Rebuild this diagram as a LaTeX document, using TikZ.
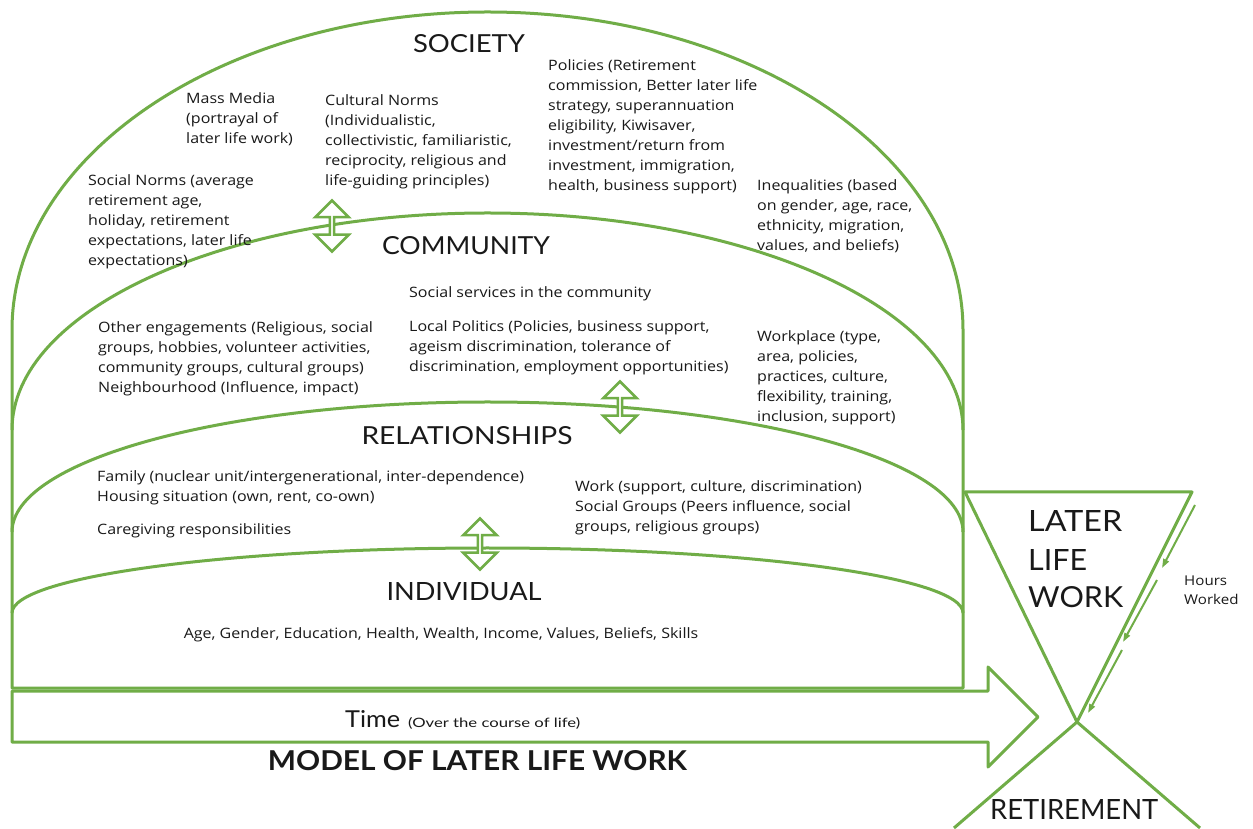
\documentclass[tikz,border=0pt]{standalone}
\usepackage{graphicx}
\usepackage{fontspec}
\setmainfont{Lato}
\newfontfamily\bodyfont[FakeStretch=1.12]{Open Sans}
\usetikzlibrary{shapes.arrows,arrows.meta}
\definecolor{lgreen}{RGB}{112,173,71}
\definecolor{ink}{RGB}{25,25,25}
\newcommand{\fitbox}[3]{\resizebox{#1pt}{#2pt}{#3}}
\begin{document}
\begin{tikzpicture}[x=1pt,y=1pt,
  dome/.style={draw=lgreen,line width=3pt,line join=round},
  bodytxt/.style={font=\bodyfont\fontsize{14.3}{20}\selectfont,text=ink,align=left,inner sep=0pt,anchor=north west},
  ttl/.style={text=ink,inner sep=0pt},
  dblarrow/.style={double arrow,draw=lgreen,fill=white,line width=2.5pt,rotate=90,minimum height=51pt,minimum width=33.5pt,double arrow head extend=9pt,inner sep=0pt},
  hoursarrow/.style={draw=lgreen,line width=2pt,-{Triangle[length=9pt,width=6pt]}}
]
\useasboundingbox (0,0) rectangle (1253,828);
\fill[white] (0,0) rectangle (1253,828);

% nested domes
\draw[dome] (12,140) -- (12,498) arc[start angle=180,end angle=0,x radius=475.5,y radius=318] -- (963,140) -- cycle;
\draw[dome] (12,398) arc[start angle=180,end angle=0,x radius=475.5,y radius=217];
\draw[dome] (12,296) arc[start angle=180,end angle=0,x radius=475.5,y radius=130];
\draw[dome] (12,215) arc[start angle=180,end angle=0,x radius=475.5,y radius=65];

% time arrow
\draw[dome] (12,137) -- (988,137) -- (988,161) -- (1038,111) -- (988,61) -- (988,86) -- (12,86) -- cycle;

% later life work triangle and retirement
\draw[dome] (965,336) -- (1192,336) -- (1077,106) -- cycle;
\draw[dome] (954,0) -- (1077,106) -- (1200,0);

% hours worked arrows
\coordinate (h1a) at (1195,323); \coordinate (h1b) at (1162,260);
\coordinate (h2a) at (1157,248); \coordinate (h2b) at (1123,186);
\coordinate (h3a) at (1122,178); \coordinate (h3b) at (1088,115);
\draw[hoursarrow] (h1a) -- (h1b);
\draw[hoursarrow] (h2a) -- (h2b);
\draw[hoursarrow] (h3a) -- (h3b);

% double arrows
\node[dblarrow] (a1) at (332,602) {};
\node[dblarrow] (a2) at (620,421) {};
\node[dblarrow] (a3) at (480,284) {};

% titles
\node[ttl] (society) at (469,784) {\fitbox{112}{18}{SOCIETY}};
\node[ttl] (community) at (466,582) {\fitbox{168}{18}{COMMUNITY}};
\node[ttl] (relationships) at (467,392) {\fitbox{211}{18}{RELATIONSHIPS}};
\node[ttl] (individual) at (464,236) {\fitbox{155}{18}{INDIVIDUAL}};

% society texts
\node[bodytxt] (massmedia) at (186,736) {Mass Media\\(portrayal of\\later life work)};
\node[bodytxt] (cultural) at (325,734) {Cultural Norms\\(Individualistic,\\collectivistic, familiaristic,\\reciprocity, religious and\\life-guiding principles)};
\node[bodytxt] (policies) at (548,769) {Policies (Retirement\\commission, Better later life\\strategy, superannuation\\eligibility, Kiwisaver,\\investment/return from\\investment, immigration,\\health, business support)};
\node[bodytxt] (socialnorms) at (88,654) {Social Norms (average\\retirement age,\\holiday, retirement\\expectations, later life\\expectations)};
\node[bodytxt] (inequalities) at (757,649) {Inequalities (based\\on gender, age, race,\\ethnicity, migration,\\values, and beliefs)};

% community texts
\node[bodytxt] (socialservices) at (409,542) {Social services in the community};
\node[bodytxt] (localpolitics) at (409,508) {Local Politics (Policies, business support,\\ageism discrimination, tolerance of\\discrimination, employment opportunities)};
\node[bodytxt] (otherengagements) at (98,507) {Other engagements (Religious, social\\groups, hobbies, volunteer activities,\\community groups, cultural groups)\\Neighbourhood (Influence, impact)};
\node[bodytxt] (workplace) at (757,498) {Workplace (type,\\area, policies,\\practices, culture,\\flexibility, training,\\inclusion, support)};

% relationships texts
\node[bodytxt] (family) at (97,358) {Family (nuclear unit/intergenerational, inter-dependence)\\Housing situation (own, rent, co-own)};
\node[bodytxt] (caregiving) at (97,305) {Caregiving responsibilities};
\node[bodytxt] (work) at (575,348) {Work (support, culture, discrimination)\\Social Groups (Peers influence, social\\groups, religious groups)};

% individual text
\node[bodytxt,anchor=center] (age) at (441,193) {Age, Gender, Education, Health, Wealth, Income, Values, Beliefs, Skills};

% time
\node[ttl,anchor=base west] (time) at (345,101) {\fitbox{55}{17}{Time}};
\node[ttl,anchor=base west] (timenote) at (408,101) {\fitbox{172}{10}{(Over the course of life)}};
\node[ttl] (model) at (477.5,67) {\fitbox{419}{20}{\bfseries MODEL OF LATER LIFE WORK}};

% later life work / retirement
\node[ttl,anchor=west] (later) at (1028,307) {\fitbox{94}{21}{LATER}};
\node[ttl,anchor=west] (life) at (1028,268) {\fitbox{59}{21}{LIFE}};
\node[ttl,anchor=west] (lwork) at (1028,231) {\fitbox{95}{21}{WORK}};
\node[ttl,anchor=west] (retirement) at (990,19) {\fitbox{168}{20}{RETIREMENT}};
\node[bodytxt,font=\bodyfont\fontsize{13.5}{19}\selectfont] (hours) at (1184,252) {Hours\\Worked};
\end{tikzpicture}
\end{document}
